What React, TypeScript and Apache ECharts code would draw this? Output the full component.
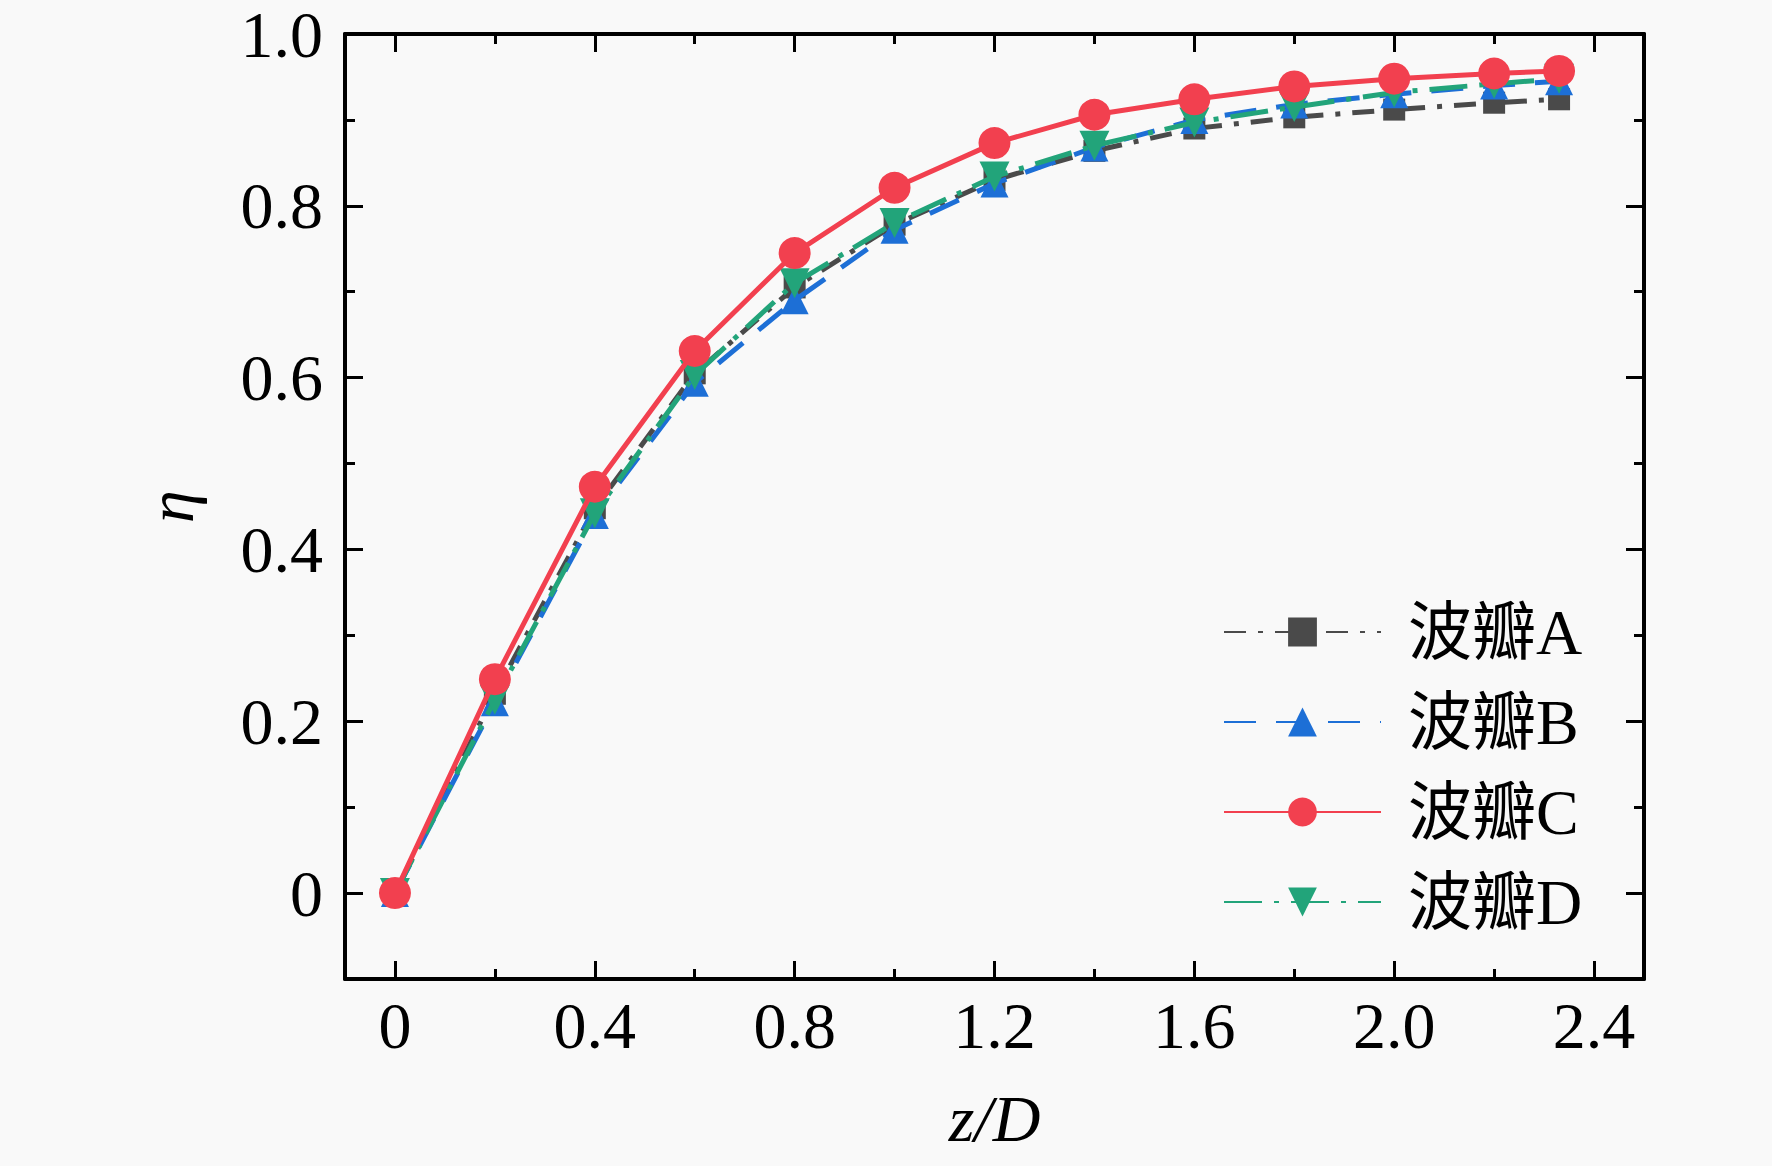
import React, { useEffect, useRef } from "react";
import * as echarts from "echarts";

// ---- data ----
const Z_D = [0, 0.2, 0.4, 0.6, 0.8, 1.0, 1.2, 1.4, 1.6, 1.8, 2.0, 2.2, 2.33];
const ETA_A = [0, 0.232, 0.448, 0.605, 0.705, 0.778, 0.83, 0.864, 0.89, 0.903, 0.912, 0.92, 0.924];
const ETA_B = [0, 0.222, 0.44, 0.594, 0.69, 0.772, 0.826, 0.868, 0.9, 0.918, 0.93, 0.94, 0.945];
const ETA_C = [0, 0.249, 0.473, 0.631, 0.745, 0.821, 0.873, 0.906, 0.924, 0.939, 0.948, 0.954, 0.957];
const ETA_D = [0, 0.225, 0.442, 0.603, 0.71, 0.78, 0.834, 0.87, 0.897, 0.915, 0.932, 0.942, 0.948];

const SERIES_NAMES = ["波瓣A", "波瓣B", "波瓣C", "波瓣D"];

const X_MAJOR = [0, 0.4, 0.8, 1.2, 1.6, 2.0, 2.4];
const X_LABELS = ["0", "0.4", "0.8", "1.2", "1.6", "2.0", "2.4"];
const X_MINOR = [0.2, 0.6, 1.0, 1.4, 1.8, 2.2];
const Y_MAJOR = [0, 0.2, 0.4, 0.6, 0.8, 1.0];
const Y_LABELS = ["0", "0.2", "0.4", "0.6", "0.8", "1.0"];
const Y_MINOR = [-0.1, 0.1, 0.3, 0.5, 0.7, 0.9];

const X_MIN = -0.1;
const X_MAX = 2.5;
const Y_MIN = -0.1;
const Y_MAX = 1.0;

const SERIF = "'Liberation Serif', 'Times New Roman', serif";
const CJK = "'Liberation Serif', 'Noto Sans CJK SC', serif";

function labelFor(values: number[], labels: string[]) {
  return (v: number) => {
    let best = 0;
    for (let i = 0; i < values.length; i++) {
      if (Math.abs(values[i] - v) < Math.abs(values[best] - v)) best = i;
    }
    return Math.abs(values[best] - v) < 1e-6 ? labels[best] : "";
  };
}

export default function App() {
  const ref = useRef<HTMLDivElement>(null);

  useEffect(() => {
    document.body.style.margin = "0";
    if (!ref.current) return;
    const chart = echarts.init(ref.current, undefined, { renderer: "svg" });

    const AXIS_LINE = { show: true, onZero: false, lineStyle: { color: "#000", width: 4 } };
    const NO_LINE = { show: false, onZero: false };
    const majorTick = (vals: number[]) => ({
      show: true,
      inside: true,
      length: 18,
      customValues: vals,
      lineStyle: { color: "#000", width: 3 },
    });
    const minorTick = (vals: number[]) => ({
      show: true,
      inside: true,
      length: 10,
      customValues: vals,
      lineStyle: { color: "#000", width: 3 },
    });

    const xBase = { type: "value", min: X_MIN, max: X_MAX, splitLine: { show: false } };
    const yBase = { type: "value", min: Y_MIN, max: Y_MAX, splitLine: { show: false } };

    const xAxis = [
      {
        ...xBase,
        position: "bottom",
        axisLine: AXIS_LINE,
        axisTick: majorTick(X_MAJOR),
        axisLabel: {
          show: true,
          customValues: X_MAJOR,
          formatter: labelFor(X_MAJOR, X_LABELS),
          fontSize: 66,
          lineHeight: 60,
          fontFamily: SERIF,
          color: "#000",
          margin: 16,
        },
        name: "z/D",
        nameLocation: "middle",
        nameGap: 106,
        nameTextStyle: { fontSize: 66, fontFamily: SERIF, fontStyle: "italic", color: "#000" },
      },
      {
        ...xBase,
        position: "top",
        axisLine: AXIS_LINE,
        axisTick: majorTick(X_MAJOR),
        axisLabel: { show: false },
      },
      {
        ...xBase,
        position: "bottom",
        axisLine: NO_LINE,
        axisTick: minorTick(X_MINOR),
        axisLabel: { show: false },
      },
      {
        ...xBase,
        position: "top",
        axisLine: NO_LINE,
        axisTick: minorTick(X_MINOR),
        axisLabel: { show: false },
      },
    ];

    const yAxis = [
      {
        ...yBase,
        position: "left",
        axisLine: AXIS_LINE,
        axisTick: majorTick(Y_MAJOR),
        axisLabel: {
          show: true,
          customValues: Y_MAJOR,
          formatter: labelFor(Y_MAJOR, Y_LABELS),
          fontSize: 66,
          lineHeight: 48,
          fontFamily: SERIF,
          color: "#000",
          margin: 22,
        },
        name: "η",
        nameLocation: "middle",
        nameGap: 142,
        nameTextStyle: { fontSize: 66, fontFamily: SERIF, fontStyle: "italic", color: "#000" },
      },
      {
        ...yBase,
        position: "right",
        axisLine: AXIS_LINE,
        axisTick: majorTick(Y_MAJOR),
        axisLabel: { show: false },
      },
      {
        ...yBase,
        position: "left",
        axisLine: NO_LINE,
        axisTick: minorTick(Y_MINOR),
        axisLabel: { show: false },
      },
      {
        ...yBase,
        position: "right",
        axisLine: NO_LINE,
        axisTick: minorTick(Y_MINOR),
        axisLabel: { show: false },
      },
    ];

    const pts = (ys: number[]) => Z_D.map((x, i) => [x, ys[i]]);

    const styles = [
      { color: "#4a4a4a", symbol: "rect", size: 22, rotate: 0, dash: [22, 12, 5, 12], z: 2, data: ETA_A },
      { color: "#1d6fd6", symbol: "triangle", size: 28, rotate: 0, dash: [32, 20], z: 3, data: ETA_B },
      { color: "#f2404f", symbol: "circle", size: 32, rotate: 0, dash: "solid", z: 5, data: ETA_C },
      { color: "#22a47a", symbol: "triangle", size: 30, rotate: 180, dash: [38, 12, 5, 12], z: 4, data: ETA_D },
    ];

    const series = styles.map((s, i) => ({
      name: SERIES_NAMES[i],
      type: "line",
      xAxisIndex: 0,
      yAxisIndex: 0,
      data: pts(s.data),
      symbol: s.symbol,
      symbolSize: s.size,
      symbolRotate: s.rotate,
      showSymbol: true,
      z: s.z,
      lineStyle: { color: s.color, width: 5, type: s.dash },
      itemStyle: { color: s.color },
      emphasis: { disabled: true },
    }));

    chart.setOption({
      animation: false,
      backgroundColor: "#f9f9f9",
      grid: { left: 345, right: 128, top: 34, bottom: 187 },
      legend: {
        orient: "vertical",
        left: 1218,
        top: 595,
        itemWidth: 157,
        itemHeight: 36,
        itemGap: 26,
        data: SERIES_NAMES,
        textStyle: {
          fontSize: 64,
          lineHeight: 64,
          fontFamily: CJK,
          color: "#000",
          padding: [0, 0, 0, 22],
        },
      },
      xAxis,
      yAxis,
      series,
    } as any);

    return () => chart.dispose();
  }, []);

  return <div ref={ref} style={{ width: 1772, height: 1166 }} />;
}
